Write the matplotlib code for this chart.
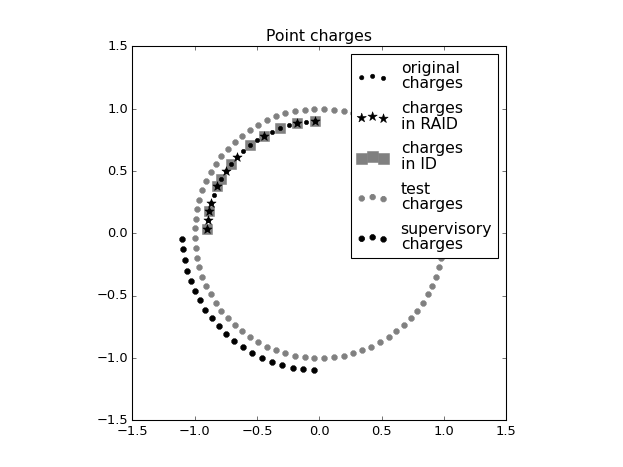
import numpy as np
import matplotlib
matplotlib.use("Agg")
import matplotlib.pyplot as plt

plt.style.use("classic")

# ---- data ----
original_radius = 0.9
original_angles_deg = [92.25, 96.75, 101.25, 105.75, 110.25, 114.75, 119.25, 123.75,
                       128.25, 132.75, 137.25, 141.75, 146.25, 150.75, 155.25, 159.75,
                       164.25, 168.75, 173.25, 177.75]
raid_indices = [0, 2, 6, 10, 12, 14, 16, 17, 18, 19]
id_indices = [0, 2, 4, 6, 8, 11, 13, 14, 17, 19]

test_radius = 1.0
test_angles_deg = [2.25, 6.75, 11.25, 15.75, 20.25, 24.75, 29.25, 33.75, 38.25, 42.75,
                   47.25, 51.75, 56.25, 60.75, 65.25, 69.75, 74.25, 78.75, 83.25, 87.75,
                   92.25, 96.75, 101.25, 105.75, 110.25, 114.75, 119.25, 123.75, 128.25, 132.75,
                   137.25, 141.75, 146.25, 150.75, 155.25, 159.75, 164.25, 168.75, 173.25, 177.75,
                   182.25, 186.75, 191.25, 195.75, 200.25, 204.75, 209.25, 213.75, 218.25, 222.75,
                   227.25, 231.75, 236.25, 240.75, 245.25, 249.75, 254.25, 258.75, 263.25, 267.75,
                   272.25, 276.75, 281.25, 285.75, 290.25, 294.75, 299.25, 303.75, 308.25, 312.75,
                   317.25, 321.75, 326.25, 330.75, 335.25, 339.75, 344.25, 348.75, 353.25, 357.75]

supervisory_radius = 1.1
supervisory_angles_deg = [182.25, 186.75, 191.25, 195.75, 200.25, 204.75, 209.25, 213.75,
                          218.25, 222.75, 227.25, 231.75, 236.25, 240.75, 245.25, 249.75,
                          254.25, 258.75, 263.25, 267.75]

labels = ["original\ncharges", "charges\nin RAID", "charges\nin ID",
          "test\ncharges", "supervisory\ncharges"]
axis_ticks = [-1.5, -1.0, -0.5, 0.0, 0.5, 1.0, 1.5]


def polar(r, angles):
    a = np.deg2rad(np.asarray(angles))
    return r * np.cos(a), r * np.sin(a)


ox, oy = polar(original_radius, original_angles_deg)
tx, ty = polar(test_radius, test_angles_deg)
sx, sy = polar(supervisory_radius, supervisory_angles_deg)

fig = plt.figure(figsize=(8, 6), dpi=77.875)
ax = fig.add_subplot(111)

ax.scatter(ox, oy, s=16, marker="o", c="k", edgecolors="k", linewidths=0.5,
           zorder=3, label=labels[0])
ax.scatter(ox[raid_indices], oy[raid_indices], s=80, marker="*", c="k",
           edgecolors="k", linewidths=0.5, zorder=4, label=labels[1])
ax.scatter(ox[id_indices], oy[id_indices], s=100, marker="s", c="0.5",
           edgecolors="0.5", linewidths=0.5, zorder=2, label=labels[2])
ax.scatter(tx, ty, s=28, marker="8", c="0.5", edgecolors="0.5", linewidths=0.8,
           zorder=3, label=labels[3])
ax.scatter(sx, sy, s=28, marker="8", c="k", edgecolors="k", linewidths=0.8,
           zorder=3, label=labels[4])

ax.set_xlim(-1.5, 1.5)
ax.set_ylim(-1.5, 1.5)
ax.set_xticks(axis_ticks)
ax.set_yticks(axis_ticks)
ax.set_aspect("equal")
ax.set_title("Point charges")
leg = ax.legend(loc="upper right", scatterpoints=3, labelspacing=0.62)
for t in leg.get_texts():
    t.set_linespacing(1.05)
leg.set_zorder(10)

fig.savefig("out.png", dpi=77.875)
